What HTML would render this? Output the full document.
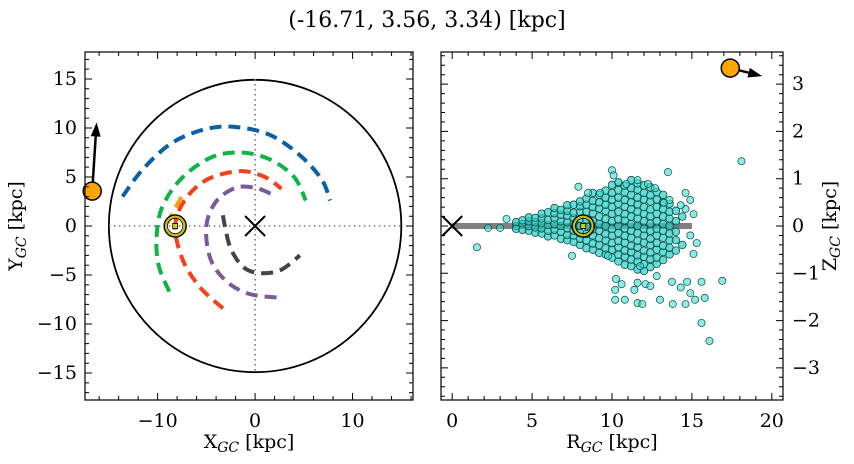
<!DOCTYPE html>
<html><head><meta charset="utf-8"><style>
body{margin:0;background:#fff}
svg{display:block;font-family:"DejaVu Serif","Liberation Serif",serif}
</style></head><body>
<svg id="c" width="854" height="464" viewBox="0 0 854 464">
<text x="427" y="27" text-anchor="middle" font-size="22">(-16.71, 3.56, 3.34) [kpc]</text>
<g id="L"></g>
<g id="R"></g>
</svg>
<script>
// ---- data ----
const starPos = [-16.71, 3.56, 3.34];
const starPosR = [17.4, 3.34];
const velArrowXY = [0.45, 7.0];
const velArrowRZ = [2.0, -0.17];
const sunPos = [-8.2, 0];
const sunR = 8.2;
const diskRadius = 15;
const orbitNames = ['blue','green','red','purple','gray'];
const orbitColors = ['#0b5fa5','#10b34a','#f5401a','#7a5a98','#444444'];
const orbitBlueX = [-13.6,-11.5,-8.5,-5,-2,1.5,4.5,6.8,7.7];
const orbitBlueY = [3.0,5.8,8.5,9.9,10.1,9.3,7.3,4.8,2.6];
const orbitGreenX = [-8.8,-9.9,-10.1,-9.5,-7.5,-4.5,-1.5,1.5,4,5.2];
const orbitGreenY = [-6.7,-4,-1,2,4.9,7,7.5,6.8,5,2.6];
const orbitRedX = [-3.3,-5.6,-7.4,-8.2,-7.1,-4.8,-1.5,1,2.7];
const orbitRedY = [-8.4,-6.3,-3.5,0,2.8,4.8,5.6,5,3.8];
const orbitPurpleX = [2.2,-0.7,-3,-4.6,-5,-4,-2,0,1.6];
const orbitPurpleY = [-7.3,-6.9,-5.6,-3.3,0,2.5,3.9,3.9,3.3];
const orbitGrayX = [-3.3,-3.1,-2.5,-1.2,0.5,2.6,4.6];
const orbitGrayY = [1.1,0,-2.3,-4.2,-4.8,-4.5,-3];
const orbitOrangeX = [-9.1,-7.3];
const orbitOrangeY = [0.2,3.4];
const starR = [4.0,4.4,4.8,5.2,5.6,6.0,6.4,6.8,7.2,7.6,8.0,8.4,8.8,9.2,9.6,10.0,10.4,10.8,11.2,11.6,12.0,12.4,12.8,13.2,13.6,14.0,14.4];
const starZ = [
[0,0.08,-0.06],[0.04,-0.08,0.12],[-0.1,0,0.1,0.18],[-0.14,-0.03,0.08,0.17],
[-0.16,-0.05,0.06,0.16,0.26],[-0.22,-0.1,0.02,0.13,0.29],[-0.2,-0.08,0.04,0.16,0.27,0.38],
[-0.27,-0.12,0,0.1,0.24,0.34],[-0.3,-0.19,-0.05,0.08,0.22,0.32,0.44],[-0.34,-0.2,-0.1,0.05,0.17,0.28,0.45],
[-0.4,-0.27,-0.14,0,0.15,0.3,0.42,0.52],[-0.47,-0.3,-0.17,0,0.13,0.3,0.45,0.58],
[-0.5,-0.37,-0.2,-0.07,0.1,0.27,0.4,0.53,0.7],[-0.57,-0.4,-0.26,-0.1,0.04,0.2,0.37,0.5,0.66],
[-0.6,-0.47,-0.3,-0.17,0,0.15,0.32,0.45,0.6,0.75],[-0.67,-0.5,-0.36,-0.2,-0.06,0.1,0.26,0.4,0.56,0.7,0.87],
[-0.75,-0.61,-0.45,-0.32,-0.15,0,0.14,0.3,0.47,0.6,0.76,0.92],[-0.82,-0.65,-0.52,-0.35,-0.21,-0.05,0.12,0.25,0.41,0.55,0.72,0.85],
[-0.85,-0.71,-0.55,-0.42,-0.25,-0.1,0.04,0.2,0.36,0.5,0.66,0.8,0.97],[-0.92,-0.75,-0.62,-0.45,-0.31,-0.15,0,0.16,0.3,0.46,0.6,0.77,0.9],
[-0.95,-0.81,-0.65,-0.52,-0.35,-0.2,-0.06,0.1,0.26,0.4,0.56,0.7,0.86],[-0.87,-0.7,-0.56,-0.4,-0.27,-0.1,0.05,0.21,0.35,0.52,0.65,0.82],
[-0.8,-0.67,-0.5,-0.36,-0.2,-0.06,0.1,0.26,0.4,0.56,0.72],[-0.72,-0.55,-0.42,-0.25,-0.1,0.04,0.2,0.36,0.5,0.66],
[-0.6,-0.46,-0.3,-0.16,0,0.16,0.3,0.47],[-0.52,-0.3,-0.12,0.1,0.32],[-0.4,0.2]];
const outR = [1.55,2.25,3.0,3.4,7.9,8.5,9.25,10,10.1,11.6,13.5,14.6,14.9,14.6,15.1,14.9,15.3,15.1,7.5,9.75,11.75,10.25,10.6,11.6,12.1,12.4,12.8,13.75,14.3,14.7,14.9,14.6,15.2,15.8,16.9,15.6,10.2,11.4,11.6,11.9,10.2,15.6,10.8,13,13.8,16.1,18.1,10.4,10.9,12.25,12.7,13.25,13.6,14.3];
const outZ = [-0.45,-0.04,-0.04,0.15,0.83,0.7,0.7,1.18,1.07,0.97,1.14,0.7,0.55,0.36,0.25,-0.2,-0.36,-0.59,-0.63,-0.63,-0.85,-1.12,-1.23,-1.2,-1.23,-1.27,-1.06,-1.18,-1.3,-1.18,-1.42,-1.65,-1.56,-1.52,-1.16,-1.18,-1.35,-1.35,-1.63,-1.65,-1.56,-2.05,-1.56,-1.56,-1.65,-2.43,1.37,0.93,0.89,0.89,0.8,0.49,0.55,0.44];
const xyTicks = [-10,0,10];
const yTicks = [-15,-10,-5,0,5,10,15];
const rTicks = [0,5,10,15,20];
const zTicks = [-3,-2,-1,0,1,2,3];

// ---- helpers ----
const NS='http://www.w3.org/2000/svg';
function mk(p,t,a,txt){const e=document.createElementNS(NS,t);for(const k in a)e.setAttribute(k,a[k]);if(txt!==undefined)e.textContent=txt;p.appendChild(e);return e;}
function lin(d0,d1,r0,r1){return v=>r0+(v-d0)*(r1-r0)/(d1-d0);}
const L=document.getElementById('L'), R=document.getElementById('R');
const lx=lin(-17.45,16.2,85,413), ly=lin(-17.75,17.75,400,52);
const rx=lin(-0.7,20.7,441,783), ry=lin(-3.68,3.68,400,52);

function axes(g,x0,x1,y0,y1,sx,sy,xmin,xmax,xmaj,xmin_,ymin,ymax,ymaj,ymin_,xt,yt,ySide){
  let e;
  for(let v=Math.ceil(xmin/xmin_)*xmin_;v<=xmax;v+=xmin_){
    const isMaj=Math.abs(v/xmaj-Math.round(v/xmaj))<1e-6;const len=isMaj?7:4;const p=sx(v);
    e=mk(g,'path',{d:`M${p},${y1}v${-len}M${p},${y0}v${len}`,stroke:'#000','stroke-width':1});
    
    
  }
  for(let v=Math.ceil(ymin/ymin_)*ymin_;v<=ymax;v+=ymin_){
    const isMaj=Math.abs(v/ymaj-Math.round(v/ymaj))<1e-6;const len=isMaj?7:4;const p=sy(v);
    e=mk(g,'path',{d:`M${x0},${p}h${len}M${x1},${p}h${-len}`,stroke:'#000','stroke-width':1});
    
    
  }
  xt.forEach(v=>{e=mk(g,'text',{x:sx(v),y:y1+27,'text-anchor':'middle','font-size':19},String(v).replace('-','\u2212'));
    
    });
  yt.forEach(v=>{const s=String(v).replace('-','\u2212');
    e=ySide==='left'?mk(g,'text',{x:x0-8,y:sy(v)+6,'text-anchor':'end','font-size':19},s):mk(g,'text',{x:x1+9,y:sy(v)+6,'text-anchor':'start','font-size':19},s);
    
    });
  e=mk(g,'rect',{x:x0,y:y0,width:x1-x0,height:y1-y0,fill:'none',stroke:'#000','stroke-width':1.2});
  
  
}
function smooth(pts){let d=`M${pts[0][0]},${pts[0][1]}`;
  for(let i=0;i<pts.length-1;i++){const p0=pts[Math.max(0,i-1)],p1=pts[i],p2=pts[i+1],p3=pts[Math.min(pts.length-1,i+2)];
    d+=`C${p1[0]+(p2[0]-p0[0])/6},${p1[1]+(p2[1]-p0[1])/6} ${p2[0]-(p3[0]-p1[0])/6},${p2[1]-(p3[1]-p1[1])/6} ${p2[0]},${p2[1]}`;}
  return d;}
function sun(g,cx,cy){let e=mk(g,'g',{});
  
  
  mk(e,'circle',{cx,cy,r:11,fill:'none',stroke:'#000','stroke-width':1.5});
  mk(e,'circle',{cx,cy,r:9.3,fill:'none',stroke:'#c8c000','stroke-width':2});
  mk(e,'circle',{cx,cy,r:7.7,fill:'none',stroke:'#000','stroke-width':0.8});
  mk(e,'rect',{x:cx-2.5,y:cy-2.5,width:5,height:5,fill:'#d8d000',stroke:'#000','stroke-width':0.8});}
function cross(g,cx,cy){const e=mk(g,'path',{d:`M${cx-10},${cy-10}L${cx+10},${cy+10}M${cx-10},${cy+10}L${cx+10},${cy-10}`,stroke:'#000','stroke-width':2});
  
  }
function arrow(g,x1,y1,x2,y2){const a=Math.atan2(y2-y1,x2-x1),h=14,w=5;
  const bx=x2-h*Math.cos(a),by=y2-h*Math.sin(a);
  let e=mk(g,'path',{d:`M${x1},${y1}L${bx},${by}`,stroke:'#000','stroke-width':2.5});
  
  
  e=mk(g,'path',{d:`M${x2},${y2}L${bx-w*Math.sin(a)},${by+w*Math.cos(a)}L${bx+w*Math.sin(a)},${by-w*Math.cos(a)}Z`,fill:'#000'});
  
  }
function axTitle(g,x,y,main,rot){
  const e=mk(g,'text',{x:0,y:0,'text-anchor':'middle','font-size':19,transform:`translate(${x},${y})`+(rot?' rotate(-90)':'')},main);
  mk(e,'tspan',{'font-style':'italic','font-size':14,dy:4},'GC');
  mk(e,'tspan',{dy:-4},' [kpc]');
  return e;}

// ---- left panel ----
let e;
e=mk(L,'circle',{cx:lx(0),cy:ly(0),r:(lx(diskRadius)-lx(0)),fill:'none',stroke:'#000','stroke-width':1.8});


e=mk(L,'path',{d:`M${lx(-diskRadius)},${ly(0)}H${lx(diskRadius)}M${lx(0)},${ly(diskRadius)}V${ly(-diskRadius)}`,stroke:'#777','stroke-width':1.6,'stroke-dasharray':'1.5 3.5'});


const orbX=[orbitBlueX,orbitGreenX,orbitRedX,orbitPurpleX,orbitGrayX], orbY=[orbitBlueY,orbitGreenY,orbitRedY,orbitPurpleY,orbitGrayY];
orbX.forEach((xs,i)=>{const pts=xs.map((x,j)=>[lx(x),ly(orbY[i][j])]);
  e=mk(L,'path',{d:smooth(pts),fill:'none',stroke:orbitColors[i],'stroke-width':4,'stroke-dasharray':'12 7'});
  
  });
e=mk(L,'path',{d:`M${lx(orbitOrangeX[0])},${ly(orbitOrangeY[0])}L${lx(orbitOrangeX[1])},${ly(orbitOrangeY[1])}`,stroke:'#f5a00f','stroke-width':4,'stroke-dasharray':'12 7'});


cross(L,lx(0),ly(0));
sun(L,lx(sunPos[0]),ly(sunPos[1]));
arrow(L,lx(starPos[0]),ly(starPos[1]),lx(starPos[0]+velArrowXY[0]),ly(starPos[1]+velArrowXY[1]));
e=mk(L,'circle',{cx:lx(starPos[0]),cy:ly(starPos[1]),r:9,fill:'#ffa500',stroke:'#000','stroke-width':1.5});


axes(L,85,413,52,400,lx,ly,-17.45,16.2,10,2,-17.75,17.75,5,1,xyTicks,yTicks,'left');
e=axTitle(L,249,448,'X',false);


e=axTitle(L,22,226,'Y',true);



// ---- right panel ----
e=mk(R,'path',{d:`M${rx(0)},${ry(0)}H${rx(diskRadius)}`,stroke:'#808080','stroke-width':6});


cross(R,rx(0),ry(0));
const sg=mk(R,'g',{});


starR.forEach((r,i)=>starZ[i].forEach(z=>{
  e=mk(sg,'circle',{cx:rx(r),cy:ry(z),r:3.8,fill:'rgba(40,205,195,0.7)',stroke:'#0b4a47','stroke-width':0.8});
  
  }));
outR.forEach((r,i)=>{
  e=mk(sg,'circle',{cx:rx(r),cy:ry(outZ[i]),r:3.6,fill:'rgba(64,224,208,0.6)',stroke:'#0b4a47','stroke-width':0.7});
  
  });
sun(R,rx(sunR),ry(0));
arrow(R,rx(starPosR[0]),ry(starPosR[1]),rx(starPosR[0]+velArrowRZ[0]),ry(starPosR[1]+velArrowRZ[1]));
e=mk(R,'circle',{cx:rx(starPosR[0]),cy:ry(starPosR[1]),r:9,fill:'#ffa500',stroke:'#000','stroke-width':1.5});


axes(R,441,783,52,400,rx,ry,-0.7,20.7,5,1,-3.68,3.68,1,0.2,rTicks,zTicks,'right');
e=axTitle(R,612,448,'R',false);


e=axTitle(R,836,226,'Z',true);


</script>
</body></html>
